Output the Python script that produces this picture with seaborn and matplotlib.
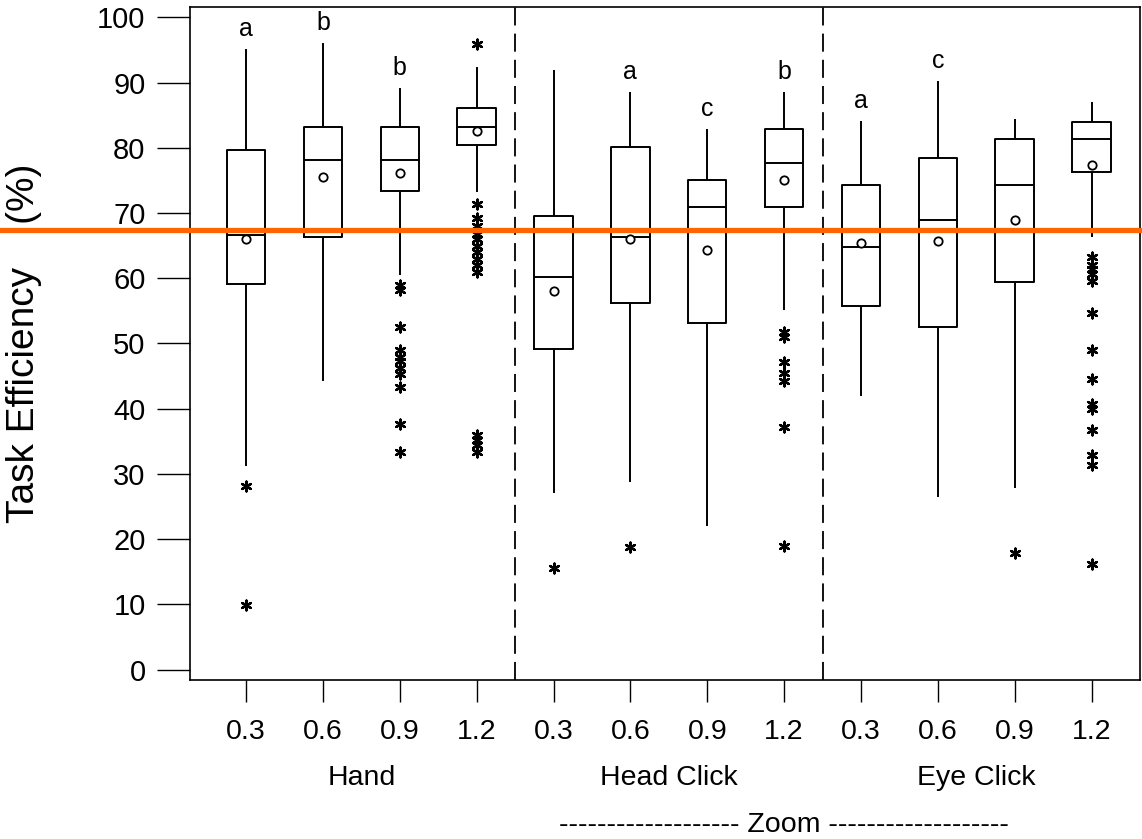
"""
Task efficiency by input method and zoom level - box plots with means and outliers
"""
import pandas as pd
import matplotlib
matplotlib.use("Agg")
import matplotlib.pyplot as plt
import matplotlib.transforms as mtransforms
from matplotlib.lines import Line2D
import seaborn as sns

# Categories
methods = ["Hand", "Head Click", "Eye Click"]
zoom_levels = ["0.3", "0.6", "0.9", "1.2"]

# Box statistics (order: Hand 0.3..1.2, Head 0.3..1.2, Eye 0.3..1.2)
whisk_lo = [31.2, 44.2, 60.5, 73.3, 27.1, 28.8, 22.0, 55.2, 41.9, 26.5, 27.9, 66.3]
q1 = [59.1, 66.3, 73.4, 80.5, 49.1, 56.2, 53.2, 71.0, 55.7, 52.6, 59.4, 76.3]
median = [66.6, 78.1, 78.1, 83.2, 60.2, 66.3, 71.0, 77.6, 64.8, 69.0, 74.3, 81.4]
q3 = [79.6, 83.2, 83.2, 86.1, 69.5, 80.2, 75.1, 82.9, 74.3, 78.4, 81.4, 84.0]
whisk_hi = [95.1, 96.0, 89.1, 92.4, 91.9, 88.5, 82.9, 88.5, 84.1, 90.3, 84.4, 87.0]
means = [66.0, 75.5, 76.1, 82.6, 58.0, 66.0, 64.3, 75.1, 65.4, 65.7, 69.0, 77.3]

# Outliers per box
hand_out = [
    [28.2, 9.9],
    [],
    [59.0, 58.2, 52.6, 49.0, 48.0, 47.3, 46.3, 45.3, 43.4, 37.7, 33.3],
    [95.9, 71.4, 69.3, 68.0, 66.8, 66.0, 65.0, 64.0, 63.0, 62.0, 61.0,
     35.9, 35.2, 34.4, 33.3],
]
head_out = [
    [15.5],
    [18.8],
    [],
    [51.7, 51.0, 47.1, 45.5, 44.3, 37.2, 19.0],
]
eye_out = [
    [],
    [],
    [17.9],
    [63.2, 62.0, 61.4, 60.6, 59.6, 54.6, 49.0, 44.5, 40.7, 39.9, 36.8,
     32.9, 31.4, 16.2],
]

# Significance letters above boxes
letters = ["a", "b", "b", "", "", "a", "c", "b", "a", "c", "", ""]

reference_line = 67.4

# Build tidy frames
keys = [f"{m} {z}" for m in methods for z in zoom_levels]
box_rows = []
for i, k in enumerate(keys):
    for v in (whisk_lo[i], q1[i], median[i], q3[i], whisk_hi[i]):
        box_rows.append({"key": k, "value": v})
box_df = pd.DataFrame(box_rows)

out_rows = []
for i, k in enumerate(keys):
    for v in (hand_out + head_out + eye_out)[i]:
        out_rows.append({"key": k, "value": v})
out_df = pd.DataFrame(out_rows)

mean_df = pd.DataFrame({"key": keys, "value": means})

sns.set_theme(style="ticks")
plt.rcParams["font.family"] = ["Liberation Sans", "DejaVu Sans"]
plt.rcParams["text.color"] = "black"
plt.rcParams["axes.labelcolor"] = "black"

fig = plt.figure(figsize=(11.42, 8.39), dpi=100)
ax = fig.add_axes([0.1664, 0.1895, 0.8318, 0.8022])

sns.boxplot(data=box_df, x="key", y="value", order=keys, whis=(0, 100),
            width=0.5, fill=False, color="black", linewidth=1.4,
            showcaps=False, showfliers=False, ax=ax)

sns.stripplot(data=out_df, x="key", y="value", order=keys, jitter=False,
              marker=(6, 2, 0), size=7, color="black", edgecolor="black",
              linewidth=1.7, ax=ax, zorder=4)

sns.stripplot(data=mean_df, x="key", y="value", order=keys, jitter=False,
              marker="o", size=6, color="white", edgecolor="black",
              linewidth=1.3, ax=ax, zorder=5)

# Section dividers
for xpos in (3.5, 7.5):
    ax.axvline(xpos, color="black", lw=1.3, linestyle=(0, (10, 4.5)), zorder=1)

# Letters
for i, lab in enumerate(letters):
    if lab:
        ax.text(i, whisk_hi[i] + 2.0, lab, ha="center", va="baseline",
                fontsize=18, color="black")

ax.set_xlim(-0.73, 11.63)
ax.set_ylim(-1.6, 101.6)
ax.set_yticks(range(0, 101, 10))
ax.set_xticks(range(len(keys)))
ax.set_xticklabels(zoom_levels * 3)
ax.set_xlabel("")
ax.set_ylabel("Task Efficiency    (%)", fontsize=28, color="black")
ax.yaxis.set_label_coords(-0.156, 0.5)

for sp in ax.spines.values():
    sp.set_visible(True)
    sp.set_color("black")
    sp.set_linewidth(1.2)

ax.tick_params(axis="y", length=24, width=1.0, pad=8, labelsize=21,
               colors="black", left=True)
ax.tick_params(axis="x", length=16, width=1.0, pad=12, labelsize=20.5,
               colors="black", bottom=True)

# Group labels under tick labels
trans = mtransforms.blended_transform_factory(ax.transData, fig.transFigure)
for j, m in enumerate(methods):
    ax.text(4 * j + 1.5, 0.073, m, transform=trans, ha="center",
            va="center", fontsize=20.5, color="black")
ax.text(7.0, 0.017, "------------------- Zoom -------------------",
        transform=trans, ha="center", va="center", fontsize=20.5,
        color="black")

# Orange reference line spanning the whole figure width
htrans = mtransforms.blended_transform_factory(fig.transFigure, ax.transData)
fig.add_artist(Line2D([0, 1], [reference_line, reference_line],
                      transform=htrans, color="#FF6600", lw=3.8, zorder=10))

plt.savefig("out.png", dpi=100)
